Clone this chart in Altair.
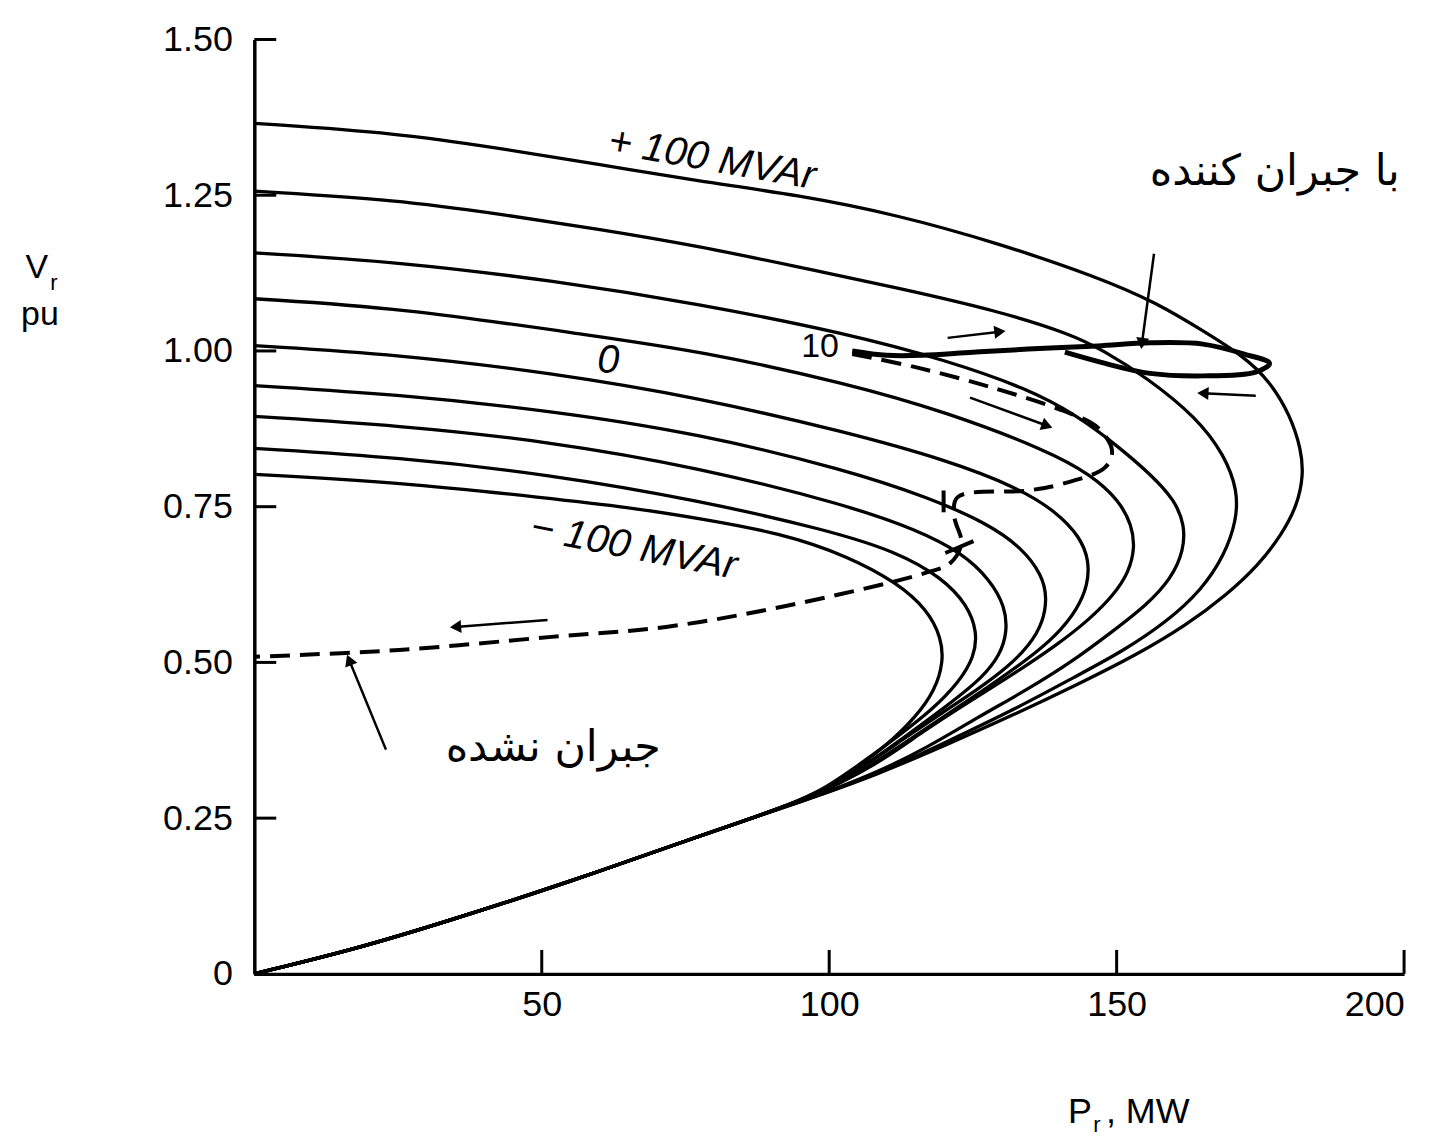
import math
import altair as alt
import pandas as pd

# ---------------- data ----------------
# Common lower branch (lower half of the +100 MVAr curve, shared by all curves)
env_P = [174.67, 169.12, 162.19, 153.51, 143.11, 132.18, 120.55, 108.41, 96.3, 77.19, 54.81, 33.13, 17.69, 0]
env_V = [0.6563, 0.6083, 0.5603, 0.5123, 0.4642, 0.4162, 0.3682, 0.3202, 0.2801, 0.2209, 0.1473, 0.0832, 0.0400, 0.0]

# Upper branch + nose (+ own lower part) of each curve, P in MW, V in pu
c1_P = [0, 25.15, 42.50, 59.84, 77.19, 94.54, 111.88, 129.23, 146.57, 156.98, 165.83, 171.90, 176.58, 180.22, 182.13, 182.48, 181.44, 178.66]
c1_V = [1.3655, 1.3495, 1.3255, 1.2999, 1.2727, 1.2504, 1.2184, 1.1734, 1.1190, 1.0774, 1.0277, 0.9925, 0.9525, 0.8965, 0.8405, 0.8004, 0.7524, 0.7044]

c2_P = [0, 25.15, 42.50, 59.84, 77.19, 94.54, 111.88, 129.23, 141.89, 147.79, 155.25, 163.92, 168.78, 171.03, 170.86, 168.78, 164.79, 158.72, 150.91, 143.11, 132.18, 120.55]
c2_V = [1.2566, 1.2424, 1.2200, 1.1958, 1.1686, 1.1350, 1.1014, 1.0646, 1.0277, 1.0005, 0.9573, 0.8933, 0.8324, 0.7764, 0.7284, 0.6724, 0.6163, 0.5651, 0.5171, 0.4787, 0.4242, 0.3730]

c3_P = [0, 25.15, 52.21, 77.19, 103.21, 120.55, 134.43, 143.11, 150.04, 156.11, 160.10, 161.84, 161.67, 159.58, 155.25, 149.18, 142.24, 134.43, 125.76, 117.09, 108.41]
c3_V = [1.1574, 1.1430, 1.1126, 1.0758, 1.0277, 0.9845, 0.9397, 0.8965, 0.8484, 0.8004, 0.7604, 0.7204, 0.6804, 0.6355, 0.5923, 0.5491, 0.5011, 0.4562, 0.4114, 0.3634, 0.3234]

c4_P = [0, 25.15, 58.80, 77.19, 103.21, 120.55, 137.90, 145.71, 150.39, 152.65, 153.17, 152.13, 149.52, 145.19, 139.64, 132.70, 124.89, 116.22, 108.41]
c4_V = [1.0838, 1.0694, 1.0245, 1.0005, 0.9477, 0.9013, 0.8405, 0.8004, 0.7604, 0.7204, 0.6836, 0.6451, 0.6083, 0.5683, 0.5283, 0.4851, 0.4402, 0.3890, 0.3362]

c5_P = [0, 25.15, 51.17, 77.19, 103.21, 120.55, 132.70, 139.64, 143.63, 145.19, 145.01, 143.11, 139.64, 134.43, 127.49, 119.69, 111.88, 104.94]
c5_V = [1.0085, 0.9941, 0.9653, 0.9253, 0.8693, 0.8244, 0.7812, 0.7412, 0.7012, 0.6644, 0.6243, 0.5843, 0.5443, 0.5043, 0.4594, 0.4114, 0.3634, 0.3202]

c6_P = [0, 25.15, 51.17, 77.19, 103.21, 117.09, 127.49, 133.56, 137.03, 137.90, 137.21, 134.95, 130.96, 125.76, 119.69, 112.75, 105.81]
c6_V = [0.9445, 0.9301, 0.9045, 0.8677, 0.8084, 0.7652, 0.7236, 0.6836, 0.6403, 0.6035, 0.5651, 0.5283, 0.4915, 0.4562, 0.4194, 0.3762, 0.3314]

c7_P = [0, 25.15, 51.17, 77.19, 103.21, 115.35, 123.16, 128.01, 130.62, 130.96, 129.75, 126.63, 121.42, 115.35, 108.41, 103.21]
c7_V = [0.8949, 0.8805, 0.8549, 0.8132, 0.7524, 0.7124, 0.6756, 0.6323, 0.5891, 0.5491, 0.5123, 0.4754, 0.4370, 0.3954, 0.3490, 0.3154]

c8_P = [0, 25.15, 51.17, 77.19, 99.74, 111.88, 119.69, 124.02, 125.76, 125.24, 122.64, 117.95, 111.88, 105.81, 101.47]
c8_V = [0.8436, 0.8292, 0.8020, 0.7604, 0.7124, 0.6772, 0.6355, 0.5923, 0.5491, 0.5091, 0.4690, 0.4242, 0.3810, 0.3394, 0.3122]

c9_P = [0, 25.15, 51.17, 65.05, 77.19, 91.59, 103.21, 111.88, 117.09, 119.51, 119.86, 118.47, 115.00, 110.15, 104.94, 100.61]
c9_V = [0.8020, 0.7892, 0.7636, 0.7492, 0.7316, 0.7076, 0.6708, 0.6275, 0.5843, 0.5395, 0.5011, 0.4562, 0.4114, 0.3682, 0.3314, 0.3042]

curves_P = [c1_P, c2_P, c3_P, c4_P, c5_P, c6_P, c7_P, c8_P, c9_P]
curves_V = [c1_V, c2_V, c3_V, c4_V, c5_V, c6_V, c7_V, c8_V, c9_V]
curve_names = ["+100", "+75", "+50", "+25", "0", "-25", "-50", "-75", "-100"]

# compensated operating path (solid, thick)
comp_P = [104, 110, 116.2, 125, 134.6, 146.7, 155.8, 165, 172.2, 176.6, 174.2, 165, 155.8, 148, 141]
comp_V = [1.000, 0.993, 0.993, 0.998, 1.003, 1.008, 1.013, 1.011, 0.995, 0.980, 0.966, 0.960, 0.964, 0.980, 0.998]

# uncompensated operating path (dashed)
unc_P = [104, 115, 128.4, 140.7, 146.7, 149.2, 148, 140.7, 134.6, 122.3, 121.8, 123, 121, 116.5, 91.6, 71.6, 51.7, 25.2, 0]
unc_V = [0.995, 0.974, 0.941, 0.904, 0.877, 0.840, 0.813, 0.787, 0.776, 0.765, 0.733, 0.691, 0.659, 0.643, 0.589, 0.557, 0.541, 0.520, 0.509]

# short cross strokes on the dashed path
seg_P1 = [119.9, 120.2]
seg_V1 = [0.776, 0.6756]
seg_P2 = [119.9, 125.1]
seg_V2 = [0.741, 0.6948]

# axis ticks
x_ticks = [50, 100, 150, 200]
y_ticks = [0, 0.25, 0.5, 0.75, 1.0, 1.25, 1.5]

# annotation arrows: start (P,V) -> end (P,V), head at end
arr_P1 = [120.6, 174.2, 124.5, 51.0, 156.5, 22.9]
arr_V1 = [1.021, 0.928, 0.925, 0.568, 1.156, 0.360]
arr_P2 = [129.7, 165.0, 137.9, 35.0, 154.4, 16.5]
arr_V2 = [1.031, 0.932, 0.880, 0.557, 1.012, 0.504]

# text labels inside the plot
lab_text = ["+ 100 MVAr", "0", "\u2212 100 MVAr"]
lab_P = [79.6, 61.6, 66.0]
lab_V = [1.308, 0.984, 0.685]
lab_angle = [10, 0, 11]

fa_text = ["با جبران کننده", "جبران نشده"]
fa_P = [177.5, 52.0]
fa_V = [1.287, 0.362]

# ---------------- build tables ----------------
W, H = 1153, 937
XMAX, YMAX = 200.0, 1.5
pxP = W / XMAX
pxV = H / YMAX

rows = []
for name, Ps, Vs in zip(curve_names, curves_P, curves_V):
    Ps = list(Ps)
    Vs = list(Vs)
    last = Ps[-1]
    # continue along the shared lower branch
    for p, v in zip(env_P, env_V):
        if p < last - 1.0:
            Ps.append(p)
            Vs.append(v)
    for i, (p, v) in enumerate(zip(Ps, Vs)):
        rows.append({"curve": name, "i": i, "P": p, "V": v})
curves_df = pd.DataFrame(rows)
comp_df = pd.DataFrame({"i": range(len(comp_P)), "P": comp_P, "V": comp_V})
unc_df = pd.DataFrame({"i": range(len(unc_P)), "P": unc_P, "V": unc_V})
seg_df = pd.DataFrame({"P": seg_P1, "V": seg_V1, "P2": seg_P2, "V2": seg_V2})

arr_df = pd.DataFrame({"P": arr_P1, "V": arr_V1, "P2": arr_P2, "V2": arr_V2})
arr_df["ang"] = [
    (math.degrees(math.atan2((p2 - p1) * pxP, (v2 - v1) * pxV)) + 360) % 360
    for p1, v1, p2, v2 in zip(arr_P1, arr_V1, arr_P2, arr_V2)
]

xs = alt.Scale(domain=[0, XMAX], nice=False, zero=False)
ys = alt.Scale(domain=[0, YMAX], nice=False, zero=False)

x_axis = alt.Axis(values=x_ticks, ticks=False, grid=False, title=None,
                  labelFontSize=36, labelFont="Liberation Sans", labelColor="black",
                  labelPadding=14, domainColor="black", domainWidth=3.5)
y_axis = alt.Axis(values=y_ticks, ticks=False, grid=False, title=None,
                  labelFontSize=36, labelFont="Liberation Sans", labelColor="black",
                  labelPadding=22, domainColor="black", domainWidth=3.5,
                  labelExpr="datum.value == 0 ? '0' : format(datum.value, '.2f')")

curves = alt.Chart(curves_df).mark_line(color="black", strokeWidth=3.3, interpolate="basis").encode(
    x=alt.X("P:Q", scale=xs, axis=x_axis),
    y=alt.Y("V:Q", scale=ys, axis=y_axis),
    detail="curve:N",
    order="i:Q",
)

comp = alt.Chart(comp_df).mark_line(color="black", strokeWidth=5, interpolate="catmull-rom").encode(
    x=alt.X("P:Q", scale=xs), y=alt.Y("V:Q", scale=ys), order="i:Q")

unc = alt.Chart(unc_df).mark_line(color="black", strokeWidth=4, strokeDash=[20, 10],
                                  interpolate="catmull-rom").encode(
    x=alt.X("P:Q", scale=xs), y=alt.Y("V:Q", scale=ys), order="i:Q")

segs = alt.Chart(seg_df).mark_rule(color="black", strokeWidth=4).encode(
    x=alt.X("P:Q", scale=xs), y=alt.Y("V:Q", scale=ys), x2="P2:Q", y2="V2:Q")

xt = alt.Chart(pd.DataFrame({"t": x_ticks})).mark_rule(color="black", strokeWidth=3).encode(
    x=alt.X("t:Q", scale=xs), y=alt.value(H), y2=alt.value(H - 24))
yt = alt.Chart(pd.DataFrame({"t": y_ticks[1:]})).mark_rule(color="black", strokeWidth=3).encode(
    y=alt.Y("t:Q", scale=ys), x=alt.value(0), x2=alt.value(22))

arr_lines = alt.Chart(arr_df).mark_rule(color="black", strokeWidth=2.5).encode(
    x=alt.X("P:Q", scale=xs), y=alt.Y("V:Q", scale=ys), x2="P2:Q", y2="V2:Q")
arr_heads = alt.Chart(arr_df).mark_point(shape="triangle-up", filled=True, color="black",
                                         size=170, opacity=1).encode(
    x=alt.X("P2:Q", scale=xs), y=alt.Y("V2:Q", scale=ys),
    angle=alt.Angle("ang:Q", scale=None))

lab_df = pd.DataFrame({"t": lab_text, "P": lab_P, "V": lab_V, "a": lab_angle})
labels = alt.Chart(lab_df).mark_text(font="Liberation Sans", fontSize=40, fontStyle="italic",
                                     color="black", baseline="middle", align="center").encode(
    x=alt.X("P:Q", scale=xs), y=alt.Y("V:Q", scale=ys), text="t:N",
    angle=alt.Angle("a:Q", scale=None))

ten = alt.Chart(pd.DataFrame({"t": ["10"], "P": [98.4], "V": [1.006]})).mark_text(
    font="Liberation Sans", fontSize=34, color="black", baseline="middle", align="center").encode(
    x=alt.X("P:Q", scale=xs), y=alt.Y("V:Q", scale=ys), text="t:N")

fa_df = pd.DataFrame({"t": fa_text, "P": fa_P, "V": fa_V})
fa_labels = alt.Chart(fa_df).mark_text(font="DejaVu Sans", fontSize=43, color="black",
                                       baseline="middle", align="center").encode(
    x=alt.X("P:Q", scale=xs), y=alt.Y("V:Q", scale=ys), text="t:N")

# axis titles with subscripts (pixel offsets relative to the plot area)
tit_t = ["V", "r", "pu", "P", "r", ", MW"]
tit_x = [-218, -201, -215, 828, 845, 854]
tit_y = [229, 244, 276, 1076, 1089, 1076]
tit_s = [34, 22, 34, 36, 22, 36]
tit_a = ["center", "center", "center", "center", "center", "left"]
titles = []
for t, x, y, s, a in zip(tit_t, tit_x, tit_y, tit_s, tit_a):
    titles.append(
        alt.Chart(pd.DataFrame({"t": [t]})).mark_text(
            font="Liberation Sans", fontSize=s, color="black",
            baseline="middle", align=a).encode(
            x=alt.value(x), y=alt.value(y), text="t:N")
    )

chart = alt.layer(curves, comp, unc, segs, xt, yt, arr_lines, arr_heads, labels, ten, fa_labels, *titles).properties(
    width=W, height=H,
    background="white",
    autosize=alt.AutoSizeParams(type="none"),
    padding={"left": 247, "top": 30, "right": 30, "bottom": 162},
).configure_view(stroke=None)

chart.save("out.html", embed_options={"renderer": "svg", "actions": False})
